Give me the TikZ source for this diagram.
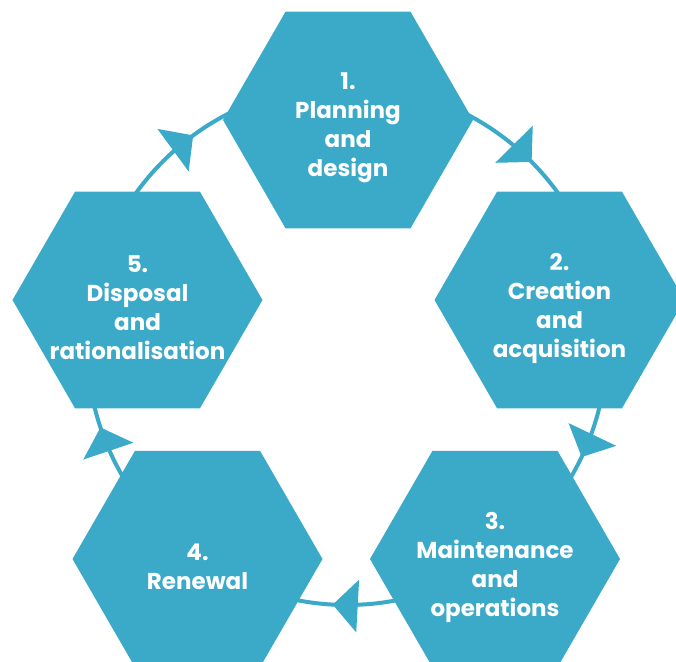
\documentclass[tikz,border=0pt]{standalone}
\usepackage{fontspec}
\setmainfont{Poppins}
\usetikzlibrary{arrows.meta}
\usetikzlibrary{positioning}
\usetikzlibrary{shapes.geometric}
\usetikzlibrary{decorations.markings}
\usetikzlibrary{backgrounds}

\definecolor{hexblue}{RGB}{59,169,200}

\begin{document}
\begin{tikzpicture}[x=1pt,y=1pt,on grid,
    hexa/.style={regular polygon, regular polygon sides=6, minimum size=250pt,
        inner sep=0pt, fill=hexblue},
    hextext/.style={text=white, align=center, yshift=-8pt,
        font=\fontsize{23}{29}\selectfont\bfseries},
    ring/.style={draw=hexblue, line width=4pt, postaction={decorate},
        decoration={markings, mark=at position #1 with
            {\arrow[hexblue]{Triangle[width=52pt,length=25pt]}}}}]
            \clip (0,0) rectangle (676,-661);
            \coordinate (ctr) at (347,-345);
            \node[hexa] (h1) at (348,-120)
                [label={[hextext]center:{1.\\Planning\\and\\design}}] {};
            \node[hexa] (h2) [below right=180pt and 211.5pt of h1]
                [label={[hextext]center:{2.\\Creation\\and\\acquisition}}] {};
            \node[hexa] (h5) [below left=180pt and 210.5pt of h1]
                [label={[hextext]center:{5.\\Disposal\\and\\rationalisation}}] {};
            \node[hexa] (h3) [below left=259pt and 64.5pt of h2]
                [label={[hextext]center:{3.\\Maintenance\\and\\operations}}] {};
            \node[hexa] (h4) [below right=259pt and 60pt of h5]
                [label={[hextext]center:{4.\\Renewal}}] {};
            % cycle ring behind the hexagons
            \begin{scope}[on background layer]
            \foreach \a/\b/\p in {90/12/0.58, 12/-55/0.56, -55/-125/0.545,
                    -125/-192/0.545, -192/-270/0.535}
                \draw[ring=\p] (ctr) ++(\a:260) arc[start angle=\a, end angle=\b, radius=260];
            \end{scope}
        \end{tikzpicture}
\end{document}
